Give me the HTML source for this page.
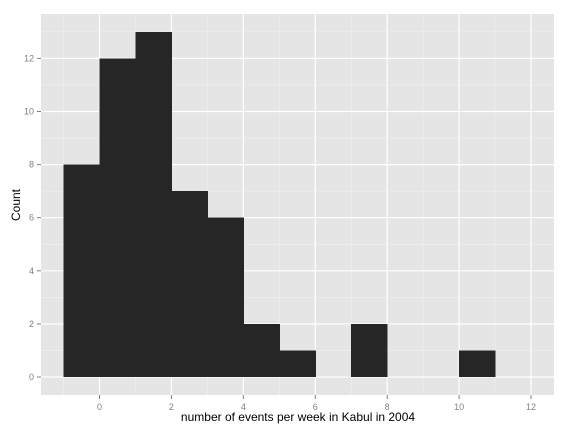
<!DOCTYPE html>
<html><head><meta charset="utf-8"><style>body{margin:0;background:#fff}svg{display:block}</style></head>
<body>
<svg id="chart" width="576" height="432" xmlns="http://www.w3.org/2000/svg" font-family="Liberation Sans, sans-serif">
<rect x="41" y="14" width="513" height="381" fill="#e5e5e5"/>
<g id="grid"></g>
<g id="bars" shape-rendering="crispEdges"></g>
<g id="axes"></g>
<text x="298" y="421" font-size="12" text-anchor="middle" fill="#000">number of events per week in Kabul in 2004</text>
<text x="20" y="205" font-size="12" text-anchor="middle" fill="#000" transform="rotate(-90 20 205)">Count</text>
</svg>
<script>
const binStarts = [-1,0,1,2,3,4,5,6,7,8,9,10];
const counts = [8,12,13,7,6,2,1,0,2,0,0,1];
const xTicks = [0,2,4,6,8,10,12];
const yTicks = [0,2,4,6,8,10,12];
const NS='http://www.w3.org/2000/svg';
const xs = v => 99.5 + v*35.96;
const ys = v => 377 - v*26.55;
const grid=document.getElementById('grid'), bars=document.getElementById('bars'), axes=document.getElementById('axes');
function mk(tag, attrs, parent){const e=document.createElementNS(NS,tag);for(const k in attrs)e.setAttribute(k,attrs[k]);parent.appendChild(e);return e;}
for(let i=0;i<xTicks.length;i++){
  const v=xTicks[i];
  const m=v+1;
  if(xs(m)<554){const g=mk('line',{x1:xs(m),x2:xs(m),y1:14,y2:395,stroke:'#f2f2f2','stroke-width':0.5},grid);
  
  }
  const l=mk('line',{x1:xs(v),x2:xs(v),y1:14,y2:395,stroke:'#fff','stroke-width':1.2},grid);
  
  
  const t=mk('line',{x1:xs(v),x2:xs(v),y1:395,y2:399,stroke:'#7f7f7f'},axes);
  
  
  const tx=mk('text',{x:xs(v),y:410,'font-size':9,'text-anchor':'middle',fill:'#7f7f7f'},axes);
  tx.textContent=v;
  
  
}
{const g=mk('line',{x1:xs(-1),x2:xs(-1),y1:14,y2:395,stroke:'#f2f2f2','stroke-width':0.5},grid);

}
for(let i=0;i<yTicks.length;i++){
  const v=yTicks[i];
  const m=v+1;
  if(ys(m)>14){const g=mk('line',{x1:41,x2:554,y1:ys(m),y2:ys(m),stroke:'#f2f2f2','stroke-width':0.5},grid);
  
  }
  const l=mk('line',{x1:41,x2:554,y1:ys(v),y2:ys(v),stroke:'#fff','stroke-width':1.2},grid);
  
  
  const t=mk('line',{x1:37,x2:41,y1:ys(v),y2:ys(v),stroke:'#7f7f7f'},axes);
  
  
  const tx=mk('text',{x:34,y:ys(v)+3,'font-size':9,'text-anchor':'end',fill:'#7f7f7f'},axes);
  tx.textContent=v;
  
  
}
for(let i=0;i<binStarts.length;i++){
  if(counts[i]<=0)continue;
  const b=mk('rect',{x:xs(binStarts[i]),y:ys(counts[i]),width:xs(binStarts[i]+1)-xs(binStarts[i])+0.5,height:ys(0)-ys(counts[i]),fill:'#262626'},bars);
  
  
}
</script>
</body></html>
